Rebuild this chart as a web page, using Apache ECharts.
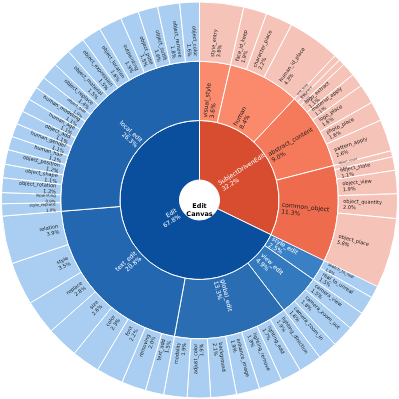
<!DOCTYPE html>
<html><head><meta charset="utf-8">
<script src="https://cdn.jsdelivr.net/npm/echarts@6/dist/echarts.min.js"></script>
<style>html,body{margin:0;padding:0;background:#fff}#c{width:399px;height:399px}</style>
</head><body><div id="c"></div>
<script>
const rootName = 'Edit\nCanvas';
const topCats = ['SubjectDrivenEdit', 'Edit'];
const topVals = [32.2, 67.8];
const subjCats = ['visual_style', 'human', 'abstract_content', 'common_object'];
const subjVals = [3.6, 8.4, 9.0, 11.3];
const editCats = ['style_edit', 'view_edit', 'global_edit', 'text_edit', 'local_edit'];
const editVals = [2.5, 4.9, 13.3, 20.8, 26.3];

const visualStyleCats = ['style_entry'];
const visualStyleVals = [3.6];
const humanCats = ['face_id_keep', 'character_place', 'human_id_place'];
const humanVals = [1.9, 2.2, 4.3];
const abstractCats = ['text_keep', 'text_place', 'logo_extract', 'material_apply', 'logo_place', 'photo_place', 'pattern_apply'];
const abstractVals = [0.5, 0.5, 1.1, 1.1, 1.6, 1.6, 2.6];
const commonCats = ['object_count', 'object_state', 'object_view', 'object_quantity', 'object_place'];
const commonVals = [0.5, 1.1, 1.9, 2.0, 5.8];

const styleEditCats = ['sketch_to_real', 'real_to_unreal'];
const styleEditVals = [1.0, 1.5];
const viewEditCats = ['camera_view', 'camera_zoom_out', 'camera_zoom_in'];
const viewEditVals = [1.5, 1.8, 1.6];
const globalEditCats = ['lighting_direction', 'lighting_add', 'lighting_remove', 'enhance_image', 'background', 'adjust_color', 'modality'];
const globalEditVals = [1.9, 1.7, 1.9, 1.9, 2.1, 1.9, 1.9];
const textEditCats = ['text_add', 'removing', 'font', 'color', 'size', 'replace', 'style', 'relation'];
const textEditVals = [1.5, 2.0, 2.2, 2.3, 2.6, 2.8, 3.5, 3.9];
const localEditCats = ['style_replace', 'inpainting', 'object_rotation', 'object_shape', 'object_position', 'human_hair', 'human_gender', 'object_add', 'human_age', 'human_modeling', 'object_size', 'object_replace', 'object_material', 'object_expression', 'object_location', 'outpainting', 'object_pose', 'object_outfit', 'object_remove', 'object_color'];
const localEditVals = [1.0, 0.9, 1.2, 1.1, 1.2, 1.1, 1.1, 1.1, 1.1, 1.1, 1.0, 1.4, 1.5, 1.5, 1.6, 1.9, 1.5, 1.6, 1.8, 1.6];

const topColors = ['#d84c2f', '#0a4f9e'];
const subjColors = ['#fb8b6d', '#fb8a6c', '#f47a5b', '#ee6b4d'];
const editColors = ['#3a80c4', '#3279bd', '#2a6db3', '#2267b0', '#1f64ad'];
const leafRed = '#f5c3b7';
const leafBlue = '#a9cef1';

function leaves(cats, vals, color) {
  return cats.map((n, i) => ({
    name: n, value: vals[i],
    itemStyle: { color: color },
    label: { fontSize: vals[i] < 0.8 ? 3 : (vals[i] < 1.05 ? 4 : 5) }
  }));
}
const subjLeaves = [
  leaves(visualStyleCats, visualStyleVals, leafRed),
  leaves(humanCats, humanVals, leafRed),
  leaves(abstractCats, abstractVals, leafRed),
  leaves(commonCats, commonVals, leafRed)
];
const editLeaves = [
  leaves(styleEditCats, styleEditVals, leafBlue),
  leaves(viewEditCats, viewEditVals, leafBlue),
  leaves(globalEditCats, globalEditVals, leafBlue),
  leaves(textEditCats, textEditVals, leafBlue),
  leaves(localEditCats, localEditVals, leafBlue)
];

const data = [{
  name: rootName,
  value: 100,
  itemStyle: { color: '#ffffff' },
  label: { rotate: 0, align: 'center', color: '#000', fontWeight: 'bold', fontSize: 6.5, formatter: rootName, lineHeight: 8 },
  children: [
    {
      name: topCats[0], value: topVals[0], itemStyle: { color: topColors[0] },
      children: subjCats.map((n, i) => ({
        name: n, value: subjVals[i], itemStyle: { color: subjColors[i] },
        label: { color: '#1a1a1a' },
        children: subjLeaves[i]
      }))
    },
    {
      name: topCats[1], value: topVals[1], itemStyle: { color: topColors[1] },
      children: editCats.map((n, i) => ({
        name: n, value: editVals[i], itemStyle: { color: editColors[i] },
        label: { color: '#ffffff' },
        children: editLeaves[i]
      }))
    }
  ]
}];

const chart = echarts.init(document.getElementById('c'), null, { renderer: 'canvas' });
chart.setOption({
  animation: false,
  series: [{
    type: 'sunburst',
    center: [199.5, 200],
    sort: null,
    startAngle: 90,
    clockwise: true,
    nodeClick: false,
    data: data,
    itemStyle: { borderColor: '#ffffff', borderWidth: 1 },
    label: {
      rotate: 'radial',
      align: 'left',
      distance: 5,
      fontFamily: 'DejaVu Sans',
      fontSize: 5,
      color: '#1a1a1a',
      lineHeight: 6,
      formatter: p => p.name + '\n' + Number(p.value).toFixed(1) + '%'
    },
    levels: [
      {},
      { r0: 0, r: 20 },
      { r0: 20, r: 79.5, label: { color: '#ffffff', fontSize: 6, lineHeight: 7 } },
      { r0: 79.5, r: 138.8, label: { fontSize: 6, lineHeight: 7, distance: 3 } },
      { r0: 138.8, r: 198, label: { fontSize: 5, lineHeight: 6, distance: 5 } }
    ]
  }]
});
</script>
</body></html>
